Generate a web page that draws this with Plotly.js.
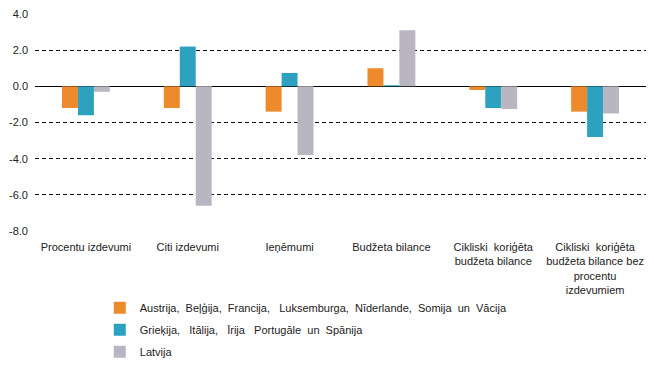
<!DOCTYPE html>
<html><head><meta charset="utf-8">
<script src="https://cdn.plot.ly/plotly-3.0.1.min.js"></script>
<style>body{margin:0;padding:0;background:#fff}#c{width:654px;height:372px}</style>
</head><body><div id="c"></div>
<script>
const categories = ["Procentu izdevumi","Citi izdevumi","Ieņēmumi","Budžeta bilance","Cikliski  koriģēta<br>budžeta bilance","Cikliski  koriģēta<br>budžeta bilance bez<br>procentu<br>izdevumiem"];
const seriesNames = ["Austrija,\u00a0 Beļģija,\u00a0 Francija,\u00a0\u00a0 Luksemburga,\u00a0 Nīderlande,\u00a0 Somija\u00a0 un\u00a0 Vācija","Grieķija,\u00a0\u00a0 Itālija,\u00a0\u00a0 Īrija\u00a0\u00a0 Portugāle\u00a0 un\u00a0 Spānija","Latvija"];
const coreValues = [-1.2, -1.2, -1.4, 1.0, -0.2, -1.4];
const periphValues = [-1.6, 2.2, 0.74, 0.06, -1.2, -2.8];
const latviaValues = [-0.3, -6.6, -3.8, 3.1, -1.25, -1.5];
const yTicks = [4, 2, 0, -2, -4, -6, -8];
const yTickLabels = ["4.0","2.0","0.0","-2.0","-4.0","-6.0","-8.0"];

const colors = ["#EC8A2C", "#2CA2C0", "#B9B6C2"];
const vals = [coreValues, periphValues, latviaValues];
const data = vals.map((v,i)=>({
  type:'bar', x:categories, y:v, name:seriesNames[i],
  marker:{color:colors[i], line:{width:0}},
  legendgroup:'g'+i, hoverinfo:'skip'
}));
const layout = {
  width:654, height:372,
  margin:{l:35, r:8, t:14, b:141, autoexpand:false},
  paper_bgcolor:'#fff', plot_bgcolor:'#fff',
  font:{family:'Liberation Sans, Arial, sans-serif', size:11, color:'#222'},
  barmode:'group', bargap:0.53, bargroupgap:0,
  showlegend:true,
  legend:{orientation:'v', x:0.106, xanchor:'left', y:-0.287, yanchor:'top', tracegroupgap:3, font:{size:11}, itemwidth:30},
  xaxis:{type:'category', showgrid:false, zeroline:false, showline:false, ticks:'', tickangle:0, automargin:false, tickfont:{size:11}, ticklabelstandoff:8},
  yaxis:{range:[-8,4], tickvals:yTicks, ticktext:yTickLabels, showgrid:true, gridcolor:'#111', griddash:'4px,3px', gridwidth:1,
    zeroline:true, zerolinecolor:'#000', zerolinewidth:1.5, showline:false, ticks:'', automargin:false, tickfont:{size:11}, ticklabelstandoff:6}
};
Plotly.newPlot('c', data, layout, {displayModeBar:false, staticPlot:true});
</script></body></html>
